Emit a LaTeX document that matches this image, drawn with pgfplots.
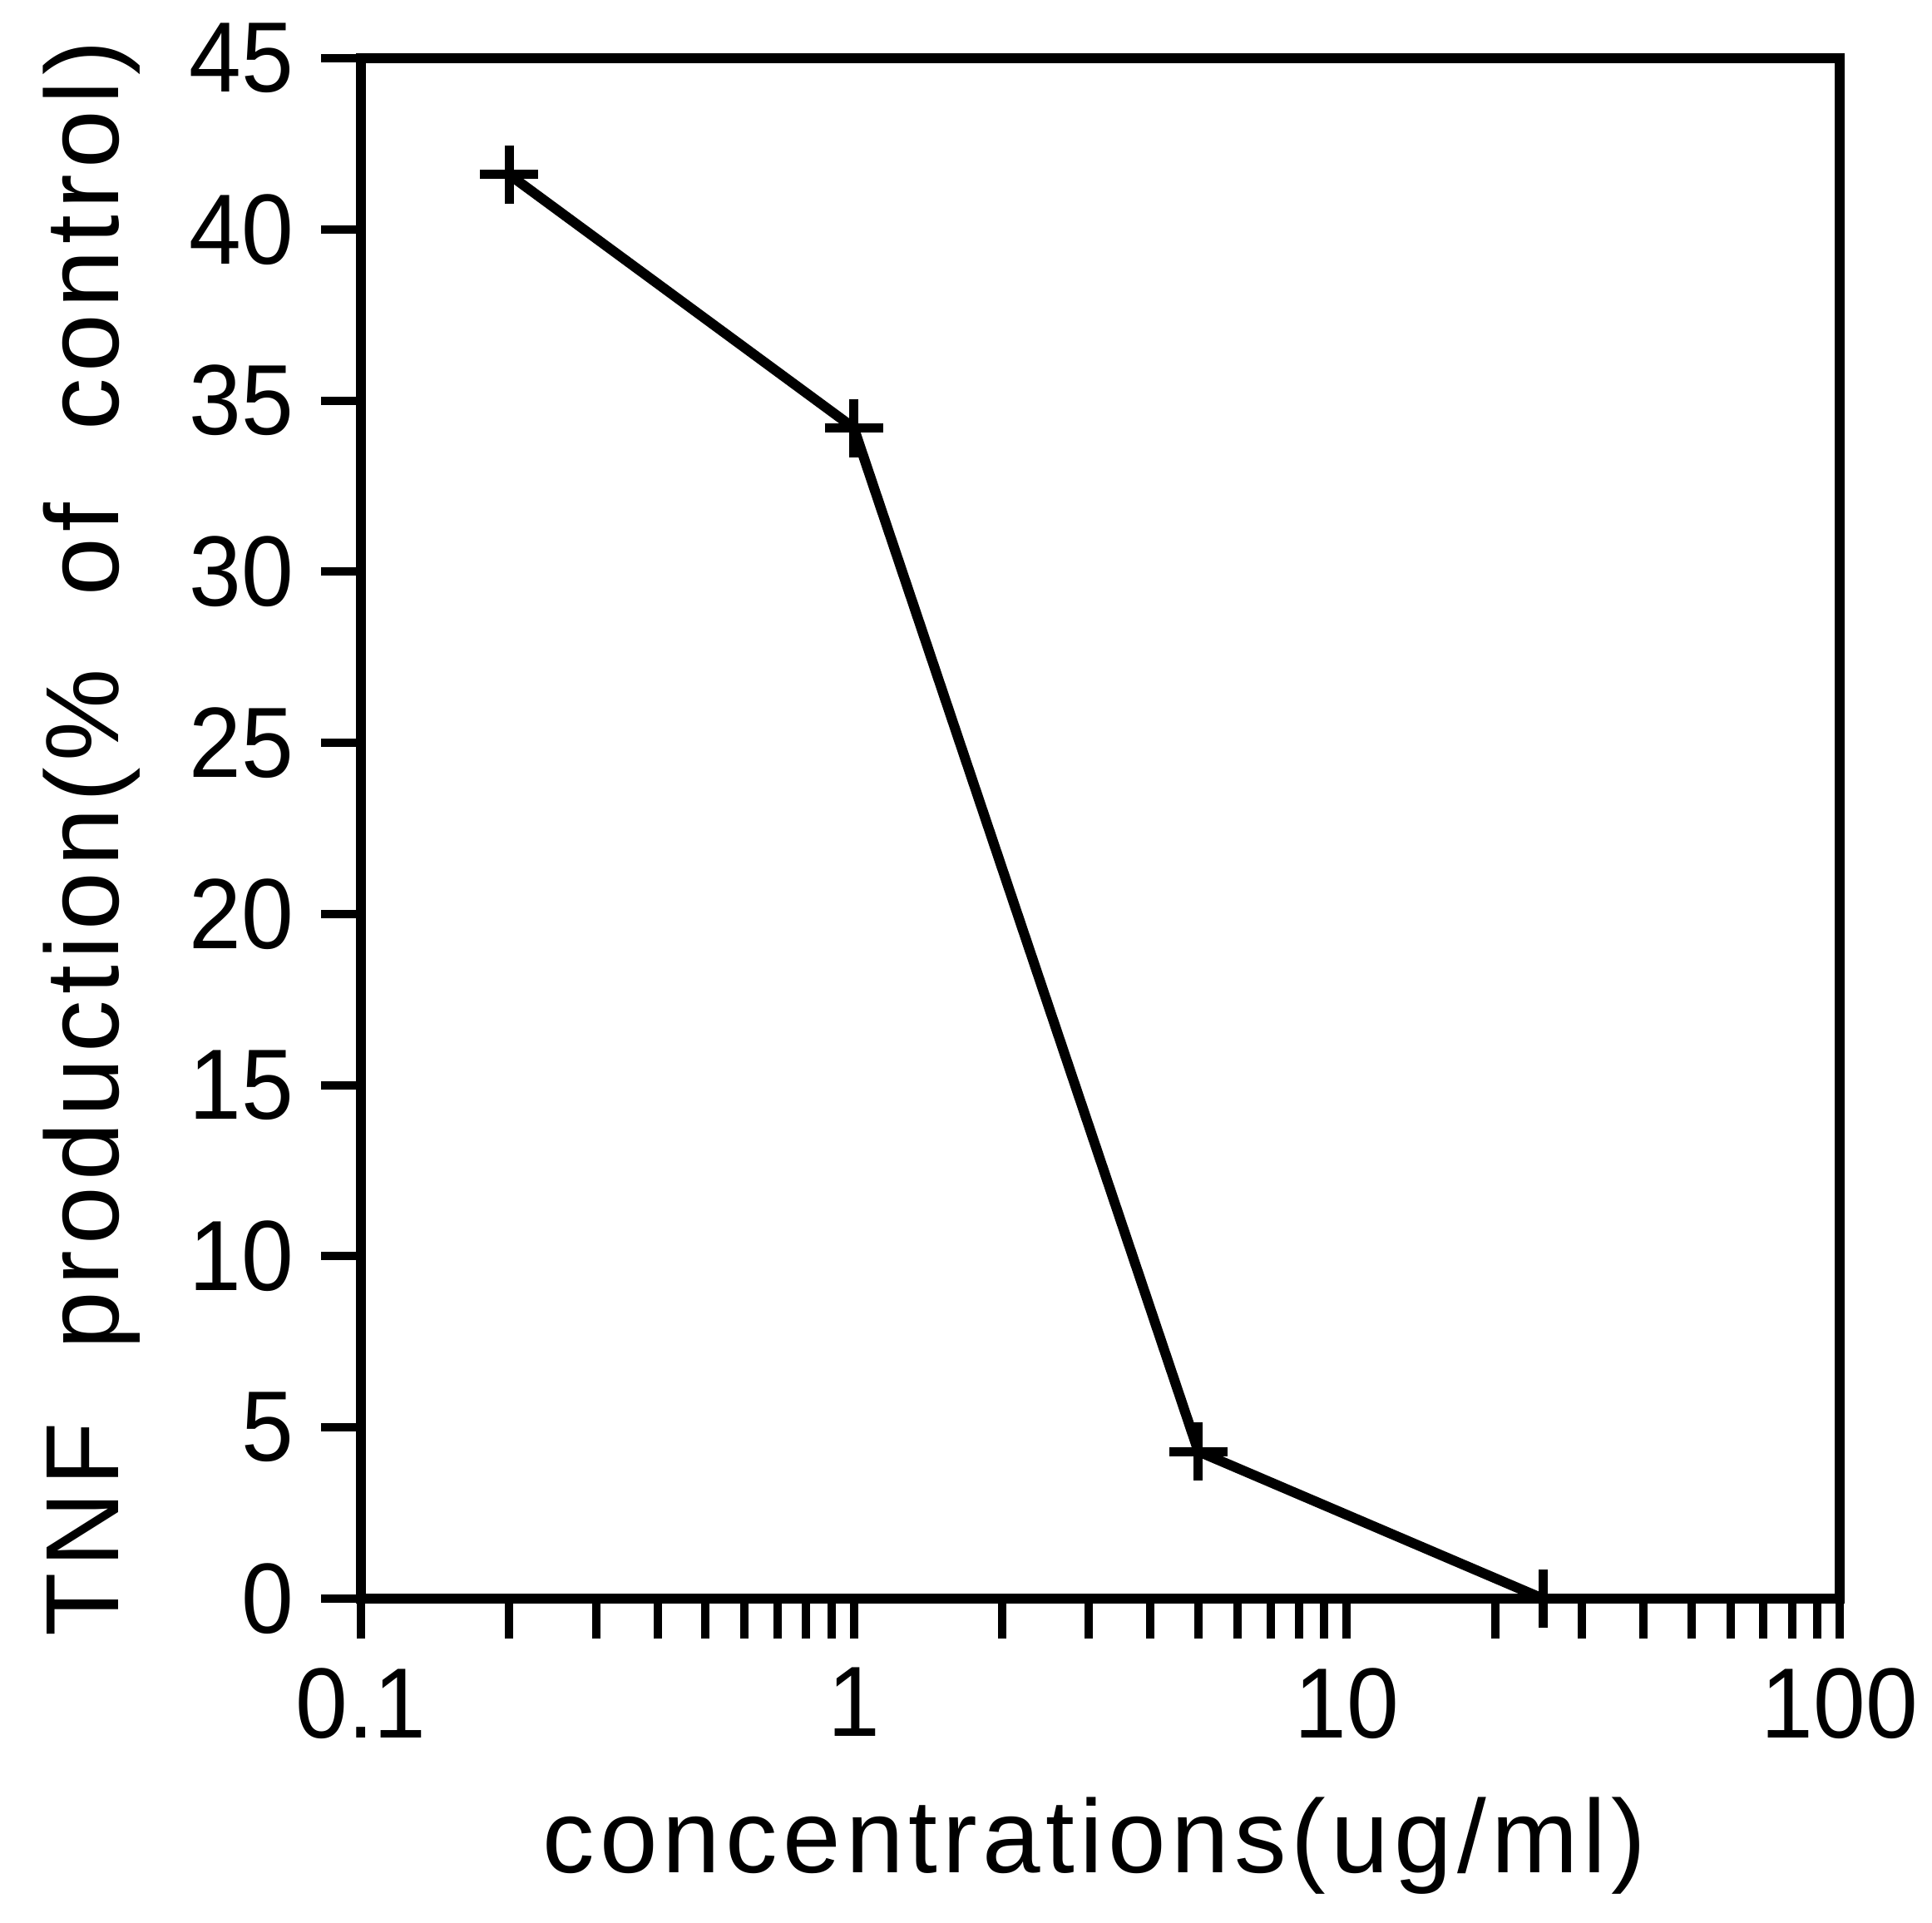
\documentclass[border=0pt]{standalone}
\usepackage{fontspec}
\setmainfont{Liberation Sans}
\newfontfamily\xlblfont{Liberation Sans}[LetterSpace=5]
\newfontfamily\ylblfont{Liberation Sans}[LetterSpace=6]
\usepackage{pgfplots}
\pgfplotsset{compat=1.18}
\begin{document}
\begin{tikzpicture}
\useasboundingbox (-43.4pt,-38.9pt) rectangle (188.9pt,192.2pt);
\begin{semilogxaxis}[
  at={(0,0)}, anchor=south west,
  width=177.8pt, height=185.2pt, scale only axis,
  xmin=0.1, xmax=100, ymin=0, ymax=45,
  xtick={0.1,1,10,100}, xticklabels={0.1,1,10,100},
  ytick={0,5,...,45},
  xtick pos=bottom, ytick pos=left,
  tick align=outside,
  major tick length=4.8pt, minor tick length=4.8pt,
  axis line style={line width=1.2pt},
  every tick/.style={black, line width=1pt},
  /pgf/number format/assume math mode=true,
  ticklabel style={font=\fontsize{12}{14}\selectfont, xscale=0.94},
  xlabel={\xlblfont concentrations(ug/ml)},
  ylabel={\ylblfont TNF\hspace{4.5pt} production(\%\hspace{4.5pt} of\hspace{4.5pt} control)},
  label style={font=\fontsize{12.5}{15}\selectfont},
  xlabel style={at={(axis description cs:0.496,0)}, anchor=base, yshift=-32.9pt},
  ylabel style={at={(axis description cs:-0.1642,0.4935)}, anchor=base, rotate=0},
  clip=false,
]
\addplot[black, line width=1.2pt, mark=+, mark size=3.5pt, mark options={line width=1.1pt}]
  coordinates {(0.2,41.6) (1,34.2) (5,4.3) (25,0)};
\end{semilogxaxis}
\end{tikzpicture}
\end{document}
